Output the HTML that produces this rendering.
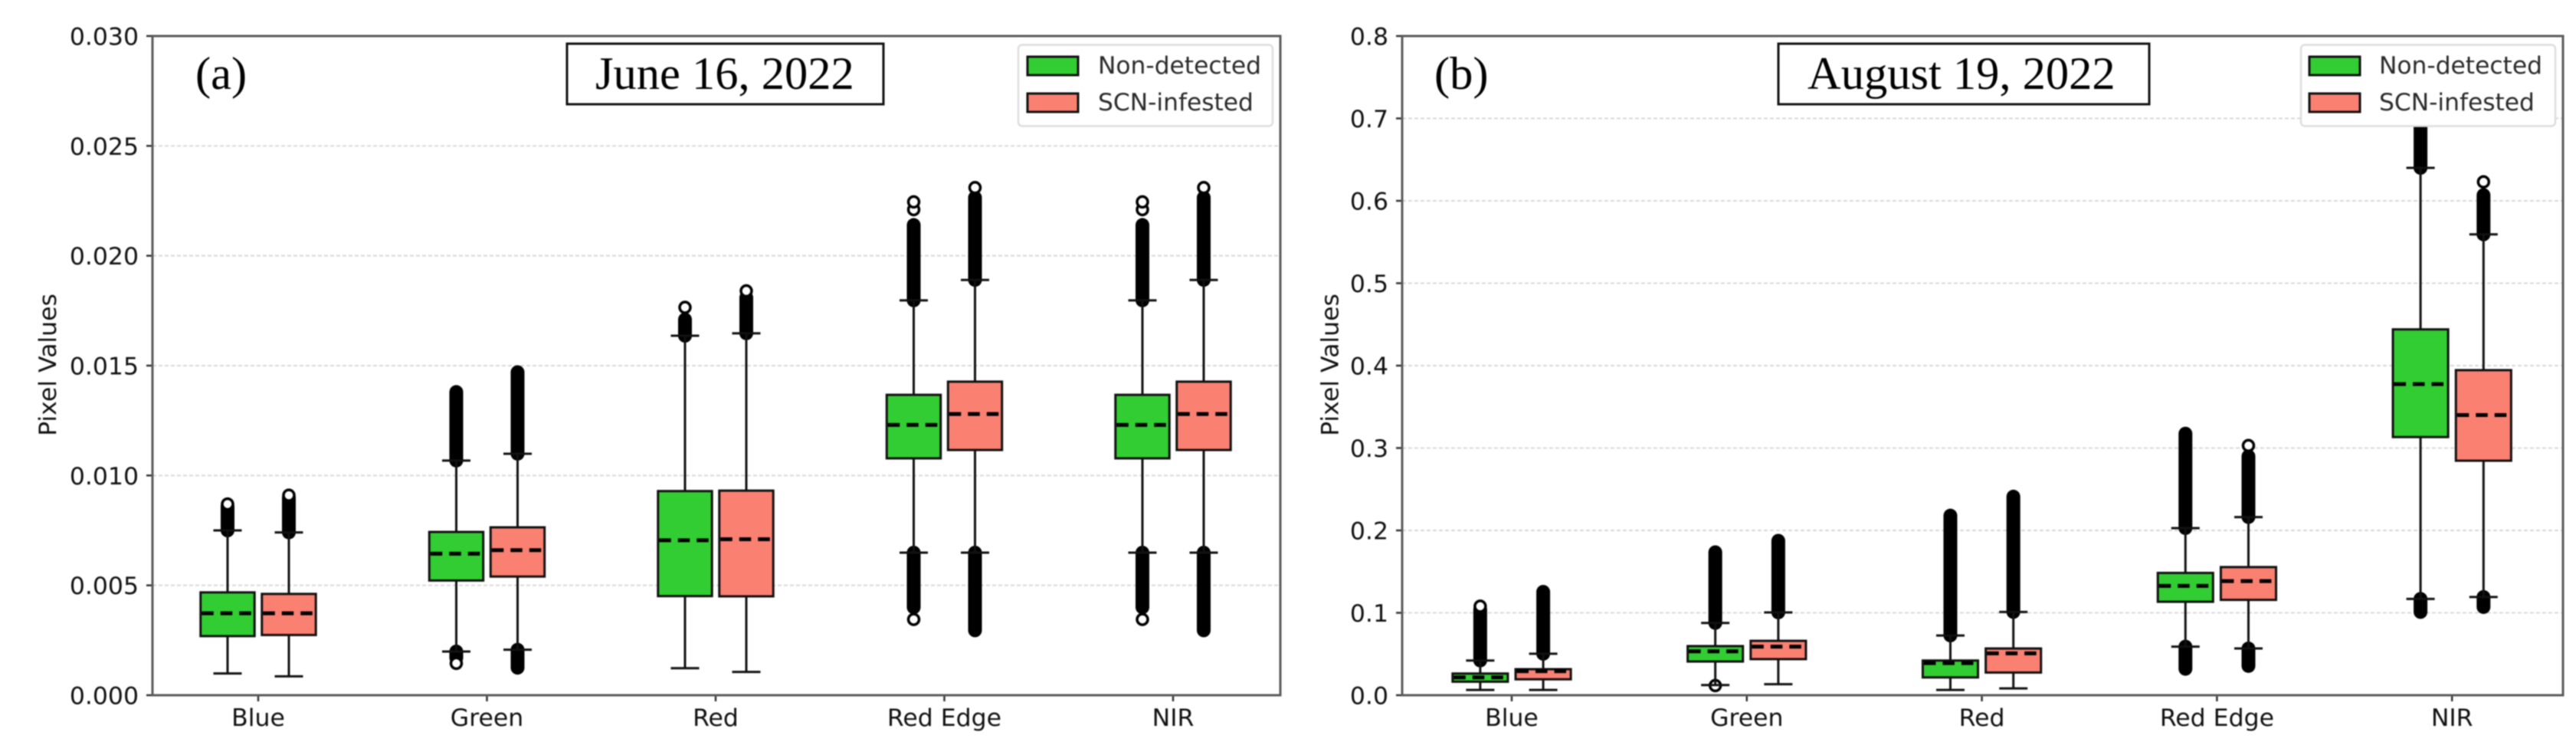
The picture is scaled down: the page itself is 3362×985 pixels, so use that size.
<!DOCTYPE html>
<html lang="en">
<head>
<meta charset="utf-8">
<title>Pixel values by spectral band: June 16 and August 19, 2022</title>
<style>
html,body{margin:0;padding:0;background:#fff;width:3362px;height:985px;overflow:hidden}
svg{display:block;filter:blur(0.7px)}
.tick{font-family:"DejaVu Sans","Liberation Sans",sans-serif;font-size:31.5px;fill:#111}
.legend-text{font-family:"DejaVu Sans","Liberation Sans",sans-serif;font-size:31.3px;fill:#2a2a2a}
.serif{font-family:"Liberation Serif",serif;font-size:60.5px;fill:#000}
</style>
</head>
<body>
<svg id="figure" xmlns="http://www.w3.org/2000/svg" width="3362" height="985" viewBox="0 0 3362 985">
  <rect x="0" y="0" width="3362" height="985" fill="#fff"/>
  <g id="grid-a"></g>
  <g id="grid-b"></g>
  <g id="marks-a"></g>
  <g id="marks-b"></g>
  <g id="axes-a"></g>
  <g id="axes-b"></g>

  <text class="serif" x="255" y="116">(a)</text>
  <g>
    <rect x="740" y="57" width="413" height="79" fill="#fff" stroke="#111" stroke-width="3"/>
    <text class="serif" x="777" y="116">June 16, 2022</text>
  </g>
  <g>
    <rect x="1329" y="58.5" width="332" height="106" rx="5" fill="#fff" stroke="#ddd" stroke-width="2.5"/>
    <rect x="1341" y="74" width="66" height="24" fill="#32CD32" stroke="#111" stroke-width="3"/>
    <text class="legend-text" x="1433" y="96">Non-detected</text>
    <rect x="1341" y="122" width="66" height="24" fill="#FA8072" stroke="#111" stroke-width="3"/>
    <text class="legend-text" x="1433" y="144">SCN-infested</text>
  </g>

  <text class="serif" x="1872" y="116">(b)</text>
  <g>
    <rect x="2321" y="57" width="484" height="79" fill="#fff" stroke="#111" stroke-width="3"/>
    <text class="serif" x="2359" y="116">August 19, 2022</text>
  </g>
  <g>
    <rect x="3003" y="58.5" width="332" height="106" rx="5" fill="#fff" stroke="#ddd" stroke-width="2.5"/>
    <rect x="3014" y="74" width="66" height="24" fill="#32CD32" stroke="#111" stroke-width="3"/>
    <text class="legend-text" x="3105" y="96">Non-detected</text>
    <rect x="3014" y="122" width="66" height="24" fill="#FA8072" stroke="#111" stroke-width="3"/>
    <text class="legend-text" x="3105" y="144">SCN-infested</text>
  </g>
</svg>

<script>
// Shared categories
const bands = ["Blue", "Green", "Red", "Red Edge", "NIR"];

// Panel (a) axis ticks
const aTicks = [0, 0.005, 0.010, 0.015, 0.020, 0.025, 0.030];
const aTickLabels = ["0.000", "0.005", "0.010", "0.015", "0.020", "0.025", "0.030"];

// Panel (a) Non-detected
const aNdQ1 = [0.00269, 0.00522, 0.00451, 0.01078, 0.01078];
const aNdMedian = [0.00373, 0.00644, 0.00705, 0.01230, 0.01230];
const aNdQ3 = [0.00468, 0.00743, 0.00929, 0.01367, 0.01367];
const aNdWhiskerLow = [0.00099, 0.00199, 0.00123, 0.00649, 0.00649];
const aNdWhiskerHigh = [0.00750, 0.01068, 0.01636, 0.01797, 0.01797];
const aNdFlierHigh = [0.00860, 0.01380, 0.01710, 0.02140, 0.02140];
const aNdFlierLow = [null, 0.00170, null, 0.00400, 0.00400];
const aNdCircles = [[0.00870], [0.00145], [0.01765], [0.02210, 0.02245, 0.00345], [0.02210, 0.02245, 0.00345]];

// Panel (a) SCN-infested
const aScnQ1 = [0.00274, 0.00540, 0.00450, 0.01116, 0.01116];
const aScnMedian = [0.00373, 0.00660, 0.00710, 0.01280, 0.01280];
const aScnQ3 = [0.00461, 0.00764, 0.00931, 0.01427, 0.01427];
const aScnWhiskerLow = [0.00086, 0.00207, 0.00106, 0.00649, 0.00649];
const aScnWhiskerHigh = [0.00741, 0.01099, 0.01647, 0.01890, 0.01890];
const aScnFlierHigh = [0.00900, 0.01470, 0.01810, 0.02265, 0.02265];
const aScnFlierLow = [null, 0.00125, null, 0.00295, 0.00295];
const aScnCircles = [[0.00910], [], [0.01840], [0.02310], [0.02310]];

// Panel (b) axis ticks
const bTicks = [0, 0.1, 0.2, 0.3, 0.4, 0.5, 0.6, 0.7, 0.8];
const bTickLabels = ["0.0", "0.1", "0.2", "0.3", "0.4", "0.5", "0.6", "0.7", "0.8"];

// Panel (b) Non-detected
const bNdQ1 = [0.0164, 0.0409, 0.0216, 0.1134, 0.3133];
const bNdMedian = [0.0216, 0.0532, 0.0390, 0.1327, 0.3776];
const bNdQ3 = [0.0263, 0.0596, 0.0421, 0.1484, 0.4440];
const bNdWhiskerLow = [0.0064, 0.0123, 0.0064, 0.0590, 0.1169];
const bNdWhiskerHigh = [0.0421, 0.0877, 0.0725, 0.2028, 0.6400];
const bNdFlierHigh = [0.1040, 0.1735, 0.2180, 0.3175, 0.7200];
const bNdFlierLow = [null, null, null, 0.0320, 0.1010];
const bNdCircles = [[0.1080], [0.0117], [], [], []];

// Panel (b) SCN-infested
const bScnQ1 = [0.0193, 0.0438, 0.0275, 0.1157, 0.2846];
const bScnMedian = [0.0292, 0.0590, 0.0508, 0.1385, 0.3400];
const bScnQ3 = [0.0316, 0.0660, 0.0567, 0.1555, 0.3945];
const bScnWhiskerLow = [0.0064, 0.0134, 0.0082, 0.0567, 0.1192];
const bScnWhiskerHigh = [0.0503, 0.1005, 0.1010, 0.2162, 0.5593];
const bScnFlierHigh = [0.1255, 0.1875, 0.2410, 0.2900, 0.6070];
const bScnFlierLow = [null, null, null, 0.0355, 0.1070];
const bScnCircles = [[], [], [], [0.3030], [0.6230]];

const SVG_NS = "http://www.w3.org/2000/svg";

function mark(parent, tag, attrs, name) {
  const el = document.createElementNS(SVG_NS, tag);
  for (const key in attrs) el.setAttribute(key, attrs[key]);
  
  
  parent.appendChild(el);
  return el;
}

function makeScaleX(left, right, domainMin, domainMax) {
  return function (v) { return left + (v - domainMin) / (domainMax - domainMin) * (right - left); };
}
function makeScaleY(top, bottom, domainMax) {
  return function (v) { return bottom - v / domainMax * (bottom - top); };
}

function drawBox(group, x, y, s, i, prefix, fill, halfW, capW) {
  const xc = x(i + s.offset);
  const xl = x(i + s.offset - halfW);
  const xr = x(i + s.offset + halfW);
  const name = prefix + "-" + bands[i].toLowerCase().replace(" ", "-");

  if (s.flierHigh[i] !== null) {
    mark(group, "line", {x1: xc, x2: xc, y1: y(s.whiskerHigh[i]), y2: y(s.flierHigh[i]), stroke: "#000", "stroke-width": 18, "stroke-linecap": "round"}, name + "-upper-outliers");
  }
  if (s.flierLow[i] !== null) {
    mark(group, "line", {x1: xc, x2: xc, y1: y(s.whiskerLow[i]), y2: y(s.flierLow[i]), stroke: "#000", "stroke-width": 18, "stroke-linecap": "round"}, name + "-lower-outliers");
  }
  s.circles[i].forEach(function (v) {
    mark(group, "circle", {cx: xc, cy: y(v), r: 7, fill: "#fff", stroke: "#000", "stroke-width": 3.5}, name + "-outlier");
  });
  mark(group, "line", {x1: xc, x2: xc, y1: y(s.whiskerLow[i]), y2: y(s.whiskerHigh[i]), stroke: "#111", "stroke-width": 3}, name + "-whisker");
  [s.whiskerLow[i], s.whiskerHigh[i]].forEach(function (v) {
    mark(group, "line", {x1: xc - capW / 2, x2: xc + capW / 2, y1: y(v), y2: y(v), stroke: "#111", "stroke-width": 3}, name + "-whisker-cap");
  });
  mark(group, "rect", {x: xl, y: y(s.q3[i]), width: xr - xl, height: y(s.q1[i]) - y(s.q3[i]), fill: fill, stroke: "#111", "stroke-width": 3}, name + "-box");
  mark(group, "line", {x1: xl + 1.5, x2: xr - 1.5, y1: y(s.median[i]), y2: y(s.median[i]), stroke: "#000", "stroke-width": 5, "stroke-dasharray": "15.5 9"}, name + "-median");
}

function drawPanel(cfg) {
  const x = makeScaleX(cfg.left, cfg.right, cfg.domainMin, cfg.domainMax);
  const y = makeScaleY(cfg.top, cfg.bottom, cfg.yMax);
  const grid = document.getElementById("grid-" + cfg.id);
  const marks = document.getElementById("marks-" + cfg.id);
  const axes = document.getElementById("axes-" + cfg.id);

  cfg.ticks.forEach(function (v, k) {
    if (v > 0 && v < cfg.yMax) {
      mark(grid, "line", {x1: cfg.left, x2: cfg.right, y1: y(v), y2: y(v), stroke: "#d8d8d8", "stroke-width": 2, "stroke-dasharray": "5 3"}, "y-gridline");
    }
    mark(axes, "line", {x1: cfg.left - 8, x2: cfg.left, y1: y(v), y2: y(v), stroke: "#333", "stroke-width": 2.5}, "y-tick");
    const label = mark(axes, "text", {x: cfg.left - 18, y: y(v) + 11.5, "text-anchor": "end", "class": "tick"}, "y-tick-label");
    label.textContent = cfg.tickLabels[k];
  });

  bands.forEach(function (band, i) {
    drawBox(marks, x, y, cfg.nd, i, "non-detected", "#32CD32", cfg.halfW, cfg.capW);
    drawBox(marks, x, y, cfg.scn, i, "scn-infested", "#FA8072", cfg.halfW, cfg.capW);
    mark(axes, "line", {x1: x(i), x2: x(i), y1: cfg.bottom, y2: cfg.bottom + 8, stroke: "#333", "stroke-width": 2.5}, "x-tick");
    const label = mark(axes, "text", {x: x(i), y: 947, "text-anchor": "middle", "class": "tick"}, "x-tick-label");
    label.textContent = band;
  });

  mark(axes, "rect", {x: cfg.left, y: cfg.top, width: cfg.right - cfg.left, height: cfg.bottom - cfg.top, fill: "none", stroke: "#5a5a5a", "stroke-width": 3}, "plot-frame");
  const title = mark(axes, "text", {x: 0, y: 0, "text-anchor": "middle", "class": "tick", transform: "translate(" + cfg.yLabelX + " 476) rotate(-90)"}, "y-axis-title");
  title.textContent = "Pixel Values";
}

drawPanel({
  id: "a", left: 199, right: 1671, top: 47, bottom: 907, yMax: 0.03,
  domainMin: -0.4623, domainMax: 4.469, halfW: 0.118, capW: 37, yLabelX: 73,
  ticks: aTicks, tickLabels: aTickLabels,
  nd: {offset: -0.134, q1: aNdQ1, median: aNdMedian, q3: aNdQ3, whiskerLow: aNdWhiskerLow, whiskerHigh: aNdWhiskerHigh, flierHigh: aNdFlierHigh, flierLow: aNdFlierLow, circles: aNdCircles},
  scn: {offset: 0.134, q1: aScnQ1, median: aScnMedian, q3: aScnQ3, whiskerLow: aScnWhiskerLow, whiskerHigh: aScnWhiskerHigh, flierHigh: aScnFlierHigh, flierLow: aScnFlierLow, circles: aScnCircles}
});

drawPanel({
  id: "b", left: 1830, right: 3345, top: 47, bottom: 907, yMax: 0.8,
  domainMin: -0.466, domainMax: 4.472, halfW: 0.1175, capW: 37, yLabelX: 1746.5,
  ticks: bTicks, tickLabels: bTickLabels,
  nd: {offset: -0.134, q1: bNdQ1, median: bNdMedian, q3: bNdQ3, whiskerLow: bNdWhiskerLow, whiskerHigh: bNdWhiskerHigh, flierHigh: bNdFlierHigh, flierLow: bNdFlierLow, circles: bNdCircles},
  scn: {offset: 0.134, q1: bScnQ1, median: bScnMedian, q3: bScnQ3, whiskerLow: bScnWhiskerLow, whiskerHigh: bScnWhiskerHigh, flierHigh: bScnFlierHigh, flierLow: bScnFlierLow, circles: bScnCircles}
});
</script>
</body>
</html>
